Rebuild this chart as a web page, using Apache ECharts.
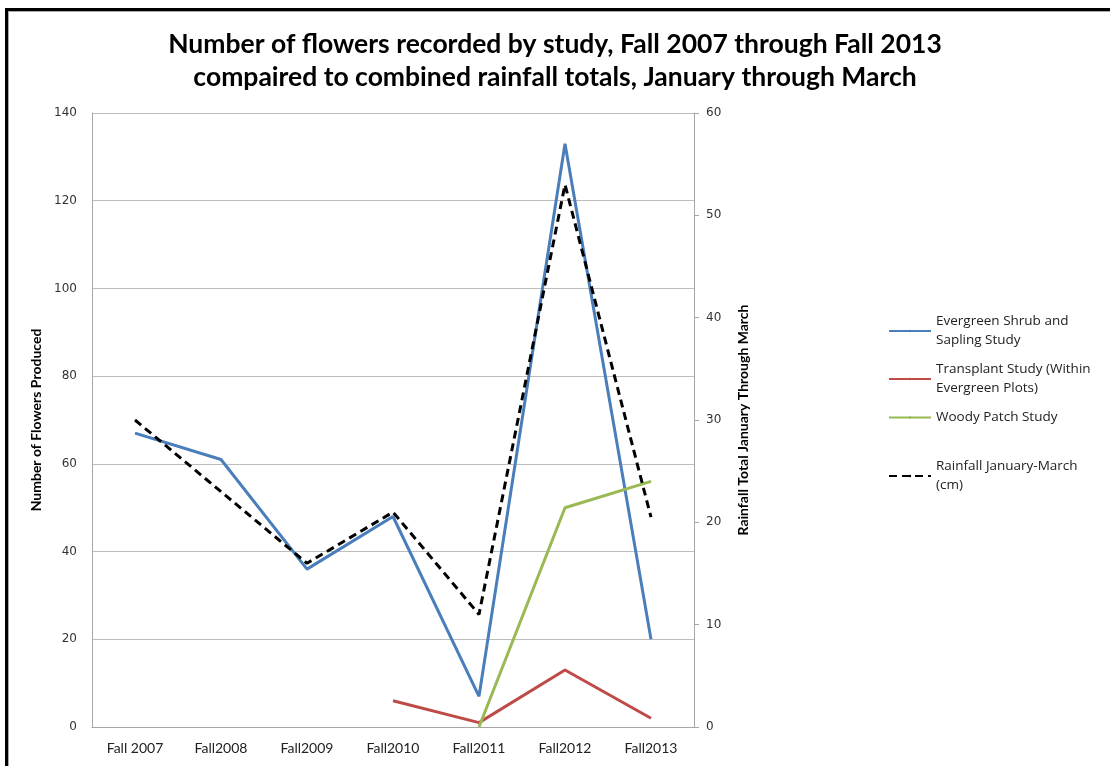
<!DOCTYPE html>
<html>
<head>
<meta charset="utf-8">
<script src="https://cdn.jsdelivr.net/npm/echarts@6/dist/echarts.min.js"></script>
<style>
  html, body { margin: 0; padding: 0; background: #fff; }
  #frame { position: absolute; left: 5px; top: 8px; width: 1105px; height: 758px;
           border-left: 3px solid #000; border-top: 3px solid #000; box-sizing: border-box; }
  #frame::after { content: ""; position: absolute; left: 0; top: 0; right: 0; bottom: 0;
           border-left: 1px solid #aaa; border-top: 1px solid #aaa; }
  #chart { position: absolute; left: 0; top: 0; width: 1110px; height: 766px; }
</style>
</head>
<body>
<div id="frame"></div>
<div id="chart"></div>
<script>
// Seasons on the x axis
const seasons = ['Fall 2007', 'Fall2008', 'Fall2009', 'Fall2010', 'Fall2011', 'Fall2012', 'Fall2013'];

// Flower counts per study (null = study not running that season)
const evergreenShrub = [67, 61, 36, 48, 7, 133, 20];
const transplant = [null, null, null, 6, 1, 13, 2];
const woodyPatch = [null, null, null, null, 0, 50, 56];

// Combined January–March rainfall (cm), right axis
const rainfall = [30, 23, 16, 21, 11, 53, 20.5];

// Legend wording with line breaks
const legendText = {
  'Evergreen Shrub and Sapling Study': 'Evergreen Shrub and\nSapling Study',
  'Transplant Study (Within Evergreen Plots)': 'Transplant Study (Within\nEvergreen Plots)',
  'Woody Patch Study': 'Woody Patch Study',
  'Rainfall January-March (cm)': 'Rainfall January-March\n(cm)'
};

const chart = echarts.init(document.getElementById('chart'), null, { renderer: 'canvas' });

const tickFont = { fontFamily: 'DejaVu Sans', fontSize: 12, color: '#333' };
const axisGray = '#a6a6a6';
const nameFont = { fontFamily: 'Lato', fontWeight: 'bold', fontSize: 14, color: '#000' };
const legendFont = { fontFamily: 'Open Sans', fontSize: 13.5, color: '#222', lineHeight: 19 };

chart.setOption({
  animation: false,
  backgroundColor: 'transparent',
  title: {
    text: 'Number of flowers recorded by study, Fall 2007 through Fall 2013\ncompaired to combined rainfall totals, January through March',
    left: 'center',
    top: 23,
    textStyle: {
      fontFamily: 'Lato', fontWeight: 'bold', fontSize: 26.5,
      lineHeight: 33, color: '#000'
    }
  },
  legend: [
    {
      orient: 'vertical', left: 883, top: 307, itemWidth: 42, itemHeight: 3, itemGap: 10,
      data: ['Evergreen Shrub and Sapling Study', 'Transplant Study (Within Evergreen Plots)', 'Woody Patch Study'],
      formatter: n => legendText[n],
      textStyle: legendFont
    },
    {
      orient: 'vertical', left: 883, top: 452, itemWidth: 42, itemHeight: 3,
      data: ['Rainfall January-March (cm)'],
      formatter: n => legendText[n],
      textStyle: legendFont
    }
  ],
  grid: { left: 92, right: 416, top: 113, bottom: 39, containLabel: false },
  xAxis: {
    type: 'category',
    data: seasons,
    boundaryGap: true,
    axisLine: { lineStyle: { color: axisGray, width: 1 } },
    axisTick: { show: false },
    axisLabel: { fontFamily: 'Lato', fontSize: 14, color: '#222', margin: 14 }
  },
  yAxis: [
    {
      type: 'value', min: 0, max: 140, interval: 20, position: 'left',
      name: 'Number of Flowers Produced', nameLocation: 'middle', nameRotate: 90, nameGap: 44,
      nameTextStyle: nameFont,
      axisLine: { show: true, lineStyle: { color: axisGray } },
      axisTick: { show: false },
      axisLabel: Object.assign({ margin: 15 }, tickFont),
      splitLine: { show: true, lineStyle: { color: '#bdbdbd', width: 1 } }
    },
    {
      type: 'value', min: 0, max: 60, interval: 10, position: 'right',
      name: 'Rainfall Total January Through March', nameLocation: 'middle', nameRotate: 90, nameGap: 42,
      nameTextStyle: nameFont,
      axisLine: { show: true, lineStyle: { color: axisGray } },
      axisTick: { show: true, inside: false, length: 5, lineStyle: { color: axisGray } },
      axisLabel: Object.assign({ margin: 12 }, tickFont),
      splitLine: { show: false }
    }
  ],
  series: [
    {
      name: 'Evergreen Shrub and Sapling Study', type: 'line', data: evergreenShrub,
      yAxisIndex: 0, symbol: 'none', color: '#4a7ebb',
      lineStyle: { width: 3, color: '#4a7ebb' }
    },
    {
      name: 'Transplant Study (Within Evergreen Plots)', type: 'line', data: transplant,
      yAxisIndex: 0, symbol: 'none', color: '#be4b48',
      lineStyle: { width: 3, color: '#be4b48' }
    },
    {
      name: 'Woody Patch Study', type: 'line', data: woodyPatch,
      yAxisIndex: 0, symbol: 'none', color: '#98b954',
      lineStyle: { width: 3, color: '#98b954' }
    },
    {
      name: 'Rainfall January-March (cm)', type: 'line', data: rainfall,
      yAxisIndex: 1, symbol: 'none', color: '#000',
      lineStyle: { width: 3, color: '#000', type: [8, 5] },
      z: 3
    }
  ]
});
</script>
</body>
</html>
